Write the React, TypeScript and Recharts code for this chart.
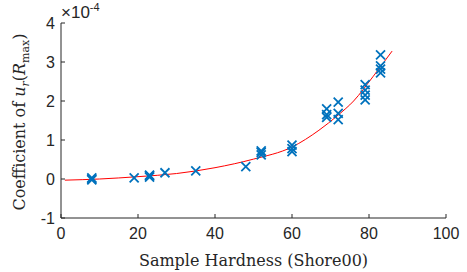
import { ComposedChart, Scatter, Line, XAxis, YAxis } from "recharts";

// measured samples (coefficient in units of 1e-4)
const hardness = [8, 8, 8, 19, 23, 23, 23, 27, 35, 48, 52, 52, 52, 60, 60, 60, 69, 69, 69, 72, 72, 72, 79, 79, 79, 79, 83, 83, 83, 83];
const coefficient = [0.0, 0.03, -0.02, 0.03, 0.05, 0.1, 0.08, 0.16, 0.21, 0.32, 0.62, 0.68, 0.72, 0.7, 0.78, 0.87, 1.58, 1.65, 1.8, 1.52, 1.68, 1.97, 2.03, 2.15, 2.28, 2.42, 2.72, 2.82, 2.9, 3.18];

// fitted curve
const fitHardness = [1, 10, 20, 30, 40, 50, 60, 67, 72, 76, 81, 86];
const fitCoefficient = [-0.03, 0.0, 0.06, 0.14, 0.29, 0.51, 0.82, 1.25, 1.64, 2.0, 2.62, 3.28];

const xTicks = [0, 20, 40, 60, 80, 100];
const yTicks = [-1, 0, 1, 2, 3, 4];

const points = hardness.map((x, i) => ({ x, y: coefficient[i] }));
const fit = fitHardness.map((x, i) => ({ x, y: fitCoefficient[i] }));

const axisColor = "#262626";
const tickFont = { fontFamily: "Liberation Sans", fontSize: 16, fill: axisColor };

const Cross = (props: any) => {
  const { cx, cy } = props;
  const r = 4.5;
  return (
    <path
      d={`M${cx - r},${cy - r}L${cx + r},${cy + r}M${cx - r},${cy + r}L${cx + r},${cy - r}`}
      stroke="#0072BD"
      strokeWidth={1.8}
      fill="none"
    />
  );
};

const YLabel = () => (
  <g>
    <text
      transform="translate(25,122) rotate(-90)"
      textAnchor="middle"
      fontFamily="DejaVu Serif"
      fontSize={16}
      fill={axisColor}
    >
      {"Coefficient of "}
      <tspan fontStyle="italic">u</tspan>
      <tspan fontStyle="italic" fontSize={11} dy={4}>r</tspan>
      <tspan dy={-4}>(</tspan>
      <tspan fontStyle="italic">R</tspan>
      <tspan fontSize={11} dy={4}>max</tspan>
      <tspan dy={-4}>)</tspan>
    </text>
    <text x={61} y={18} fontFamily="Liberation Sans" fontSize={17} fill={axisColor}>
      ×10
      <tspan fontSize={11} dy={-7}>-4</tspan>
    </text>
  </g>
);

export default function App() {
  return (
    <div style={{ position: "absolute", left: 0, top: 0, background: "#fff" }}>
      <ComposedChart width={467} height={272} margin={{ top: 23, right: 21, bottom: 0, left: 0 }}>
        <XAxis
          type="number"
          dataKey="x"
          domain={[0, 100]}
          ticks={xTicks}
          height={54}
          stroke={axisColor}
          tick={tickFont}
          tickSize={-4}
          tickMargin={14}
          allowDataOverflow
          label={{
            value: "Sample Hardness (Shore00)",
            position: "insideBottom",
            offset: 6,
            fontFamily: "DejaVu Serif",
            fontSize: 16,
            fill: axisColor,
          }}
        />
        <YAxis
          type="number"
          dataKey="y"
          domain={[-1, 4]}
          ticks={yTicks}
          width={61}
          stroke={axisColor}
          tick={tickFont}
          tickSize={-4}
          tickMargin={10}
          allowDataOverflow
          label={{ content: () => <YLabel /> }}
        />
        <Line
          data={fit}
          dataKey="y"
          type="monotone"
          stroke="#FF0000"
          strokeWidth={1}
          dot={false}
          isAnimationActive={false}
        />
        <Scatter data={points} dataKey="y" shape={Cross} isAnimationActive={false} />
      </ComposedChart>
    </div>
  );
}
